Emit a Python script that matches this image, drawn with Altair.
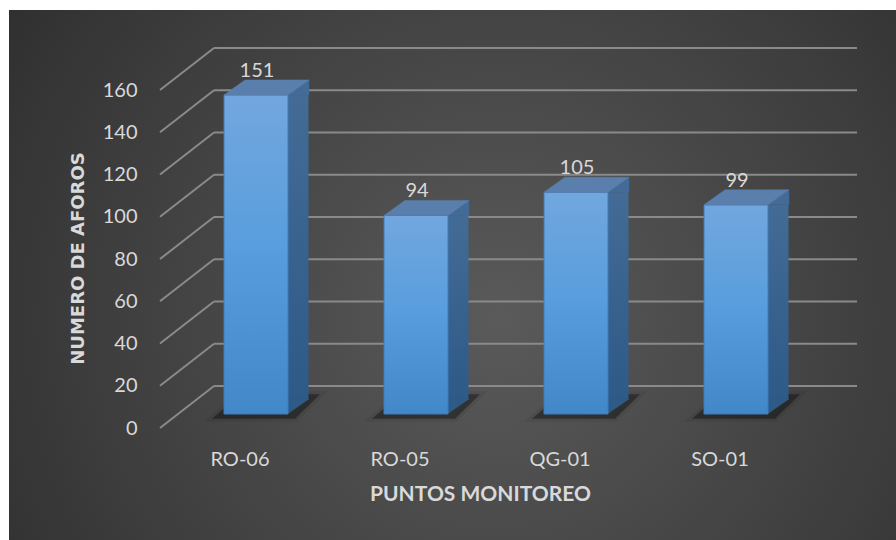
import altair as alt
import pandas as pd

# ---- data ----
categories = ["RO-06", "RO-05", "QG-01", "SO-01"]
values = [151, 94, 105, 99]
tick_values = [0, 20, 40, 60, 80, 100, 120, 140, 160]

bars = pd.DataFrame({"punto": categories, "aforos": values})
grid = pd.DataFrame({"v": tick_values})
bgdf = pd.DataFrame({"k": [0]})

# ---- geometry / style ----
W, H = 640, 338
PAD_L, PAD_T = 160, 90
WALL_DX, WALL_DY = 54, -42
BAR_W = 64
FACE_DX, FACE_DY = 16, -14      # front face of bars relative to front plane
SIDE_W = 21
LABEL = "#d9d9d9"
GRID = "#8a8a8a"
FS = 20

yscale = alt.Scale(domain=[0, 160], nice=False, zero=True)
xscale = alt.Scale(paddingInner=0, paddingOuter=0)

xaxis = alt.Axis(title="PUNTOS MONITOREO", labelAngle=0, domain=False,
                 ticks=False, tickSize=0, grid=False, zindex=2,
                 labelFont="Lato", labelFontSize=FS, labelColor=LABEL,
                 labelBaseline="middle", labelPadding=31,
                 titleFont="Lato", titleFontSize=21, titleFontWeight="bold",
                 titleColor=LABEL, titleX=320, titleY=66,
                 titleBaseline="middle", titleAlign="center")
yaxis = alt.Axis(values=tick_values, title="NUMERO DE AFOROS",
                 grid=False, domain=False, ticks=False, tickSize=0, zindex=2,
                 labelFont="Lato", labelFontSize=FS, labelColor=LABEL,
                 labelPadding=23,
                 titleFont="DejaVu Sans", titleFontSize=18,
                 titleFontWeight="bold", titleColor=LABEL,
                 titleX=-82, titleY=168, titleAngle=-90,
                 titleBaseline="middle", titleAlign="center")

def Y(field):
    return alt.Y(field, scale=yscale, axis=yaxis)

xenc = alt.X("punto:N", sort=categories, scale=xscale, axis=xaxis)

background = alt.Chart(bgdf).mark_rect(
    fill=alt.RadialGradient(
        gradient="radial",
        stops=[alt.GradientStop(color="#5a5a5a", offset=0),
               alt.GradientStop(color="#3e3e3e", offset=0.55),
               alt.GradientStop(color="#262626", offset=1)],
        x1=0.55, y1=0.55, r1=0, x2=0.55, y2=0.55, r2=0.8),
).encode(
    x=alt.value(9 - PAD_L), x2=alt.value(896 - PAD_L),
    y=alt.value(10 - PAD_T), y2=alt.value(540 - PAD_T),
)

back_lines = alt.Chart(grid).mark_rule(
    color=GRID, strokeWidth=2, yOffset=WALL_DY
).encode(
    x=alt.value(WALL_DX), x2=alt.value(697),
    y=Y("v:Q"),
)

diag_lines = alt.Chart(grid).mark_rule(
    color=GRID, strokeWidth=2, y2Offset=WALL_DY
).encode(
    x=alt.value(0), x2=alt.value(WALL_DX),
    y=Y("v:Q"),
    y2="v:Q",
)

shadow_path = "M -1.375 0.15 L 1.22 0.15 L 2.0 -0.62 L -0.5 -0.62 Z"
shadow1 = alt.Chart(bars).transform_calculate(zero="0").mark_point(
    shape=shadow_path, size=4096, filled=True, color="#000000",
    opacity=0.4, strokeWidth=6, stroke="#000000", strokeOpacity=0.15,
    xOffset=FACE_DX, yOffset=FACE_DY,
).encode(x=xenc, y=Y("zero:Q"))

side_rect = alt.Chart(bars).mark_bar(
    width=SIDE_W, xOffset=FACE_DX + BAR_W / 2 + SIDE_W / 2 - 0.5,
    yOffset=FACE_DY, y2Offset=FACE_DY - 15, opacity=1,
    fill=alt.LinearGradient(
        gradient="linear",
        stops=[alt.GradientStop(color="#436b96", offset=0),
               alt.GradientStop(color="#2e5a87", offset=1)],
        x1=0, x2=0, y1=0, y2=1),
).encode(x=xenc, y=Y("aforos:Q"), y2=alt.datum(0))

side_top = alt.Chart(bars).mark_point(
    shape="M 1 0 L 1.65625 -0.46875 L 1.65625 0 Z", size=4096, filled=True,
    color="#436b96", opacity=1, stroke="#436b96", strokeWidth=0.5,
    xOffset=FACE_DX, yOffset=FACE_DY,
).encode(x=xenc, y=Y("aforos:Q"))

side_bottom = alt.Chart(bars).transform_calculate(zero="0").mark_point(
    shape="M 0.98 -0.46875 L 1.65625 -0.46875 L 0.98 0 Z", size=4096, filled=True,
    color="#2e5a87", opacity=1, stroke="#2e5a87", strokeWidth=0.5,
    xOffset=FACE_DX, yOffset=FACE_DY,
).encode(x=xenc, y=Y("zero:Q"))

top_face = alt.Chart(bars).mark_point(
    shape="M -1 0 L 1 0 L 1.65625 -0.46875 L -0.34375 -0.46875 Z", size=4096,
    filled=True, color="#5a7fad", opacity=1, stroke="#5a7fad", strokeWidth=0.5,
    xOffset=FACE_DX, yOffset=FACE_DY,
).encode(x=xenc, y=Y("aforos:Q"))

front = alt.Chart(bars).mark_bar(
    width=BAR_W, xOffset=FACE_DX, yOffset=FACE_DY, y2Offset=FACE_DY, opacity=1,
    fill=alt.LinearGradient(
        gradient="linear",
        stops=[alt.GradientStop(color="#72a7de", offset=0),
               alt.GradientStop(color="#579ddd", offset=0.5),
               alt.GradientStop(color="#4287c8", offset=1)],
        x1=0, x2=0, y1=0, y2=1),
    stroke="#3f7dbb", strokeWidth=1,
).encode(x=xenc, y=Y("aforos:Q"), y2=alt.datum(0))

labels = alt.Chart(bars).mark_text(
    font="Lato", fontSize=FS, color=LABEL, align="center",
    baseline="alphabetic", xOffset=FACE_DX + 1, yOffset=FACE_DY - 18,
).encode(x=xenc, y=Y("aforos:Q"), text=alt.Text("aforos:Q"))

chart = alt.layer(
    background, back_lines, diag_lines, shadow1,
    side_rect, side_top, side_bottom, front, top_face, labels,
).properties(
    width=W, height=H,
    autosize=alt.AutoSizeParams(type="none"),
    padding={"left": PAD_L, "top": PAD_T, "right": 896 - PAD_L - W, "bottom": 540 - PAD_T - H},
    background="white",
).configure_view(stroke=None)

chart.save("out.html", embed_options={"renderer": "svg", "actions": False})
